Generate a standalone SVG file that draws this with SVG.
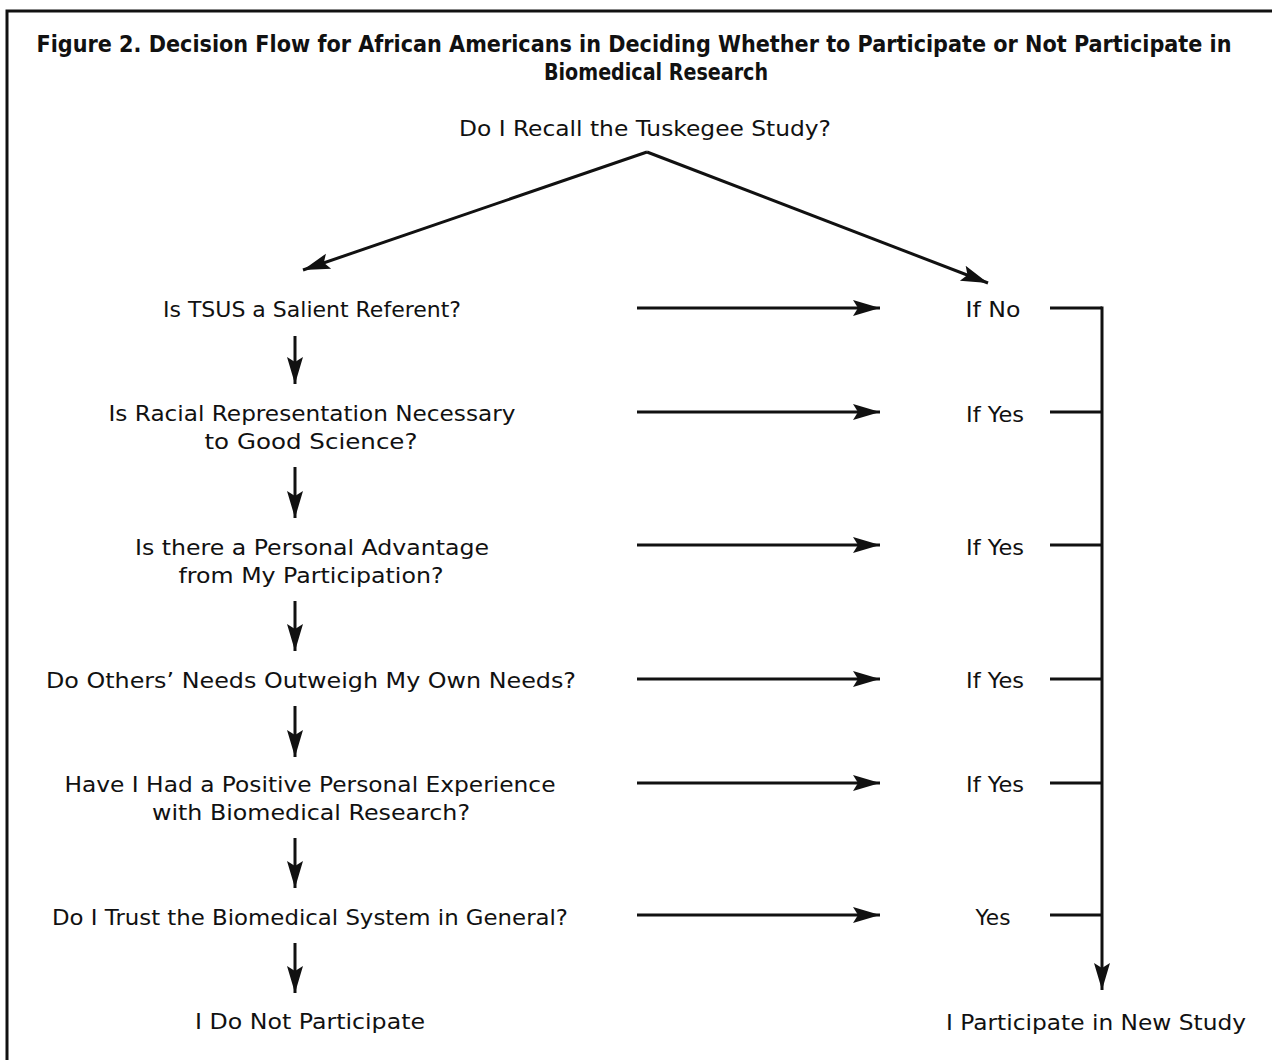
<svg xmlns="http://www.w3.org/2000/svg" width="1272" height="1060" viewBox="0 0 1272 1060">
<style>
text{font-family:"DejaVu Sans","Liberation Sans",sans-serif;font-size:22px;fill:#111;text-anchor:middle}
.title{font-weight:bold;font-size:23px}
.ln{stroke:#111;stroke-width:3;fill:none}
.ar{stroke:#111;stroke-width:3;fill:none;marker-end:url(#ah)}
</style>
<defs>
<marker id="ah" markerUnits="userSpaceOnUse" markerWidth="30" markerHeight="20" refX="0" refY="0" viewBox="-27 -10 30 20" orient="auto">
<path d="M0,0 L-27,-8 L-22,0 L-27,8 Z" fill="#111"/>
</marker>
</defs>
<rect x="0" y="0" width="1272" height="1060" fill="#fff"/>
<path class="ln" d="M7,1062 V11 H1274" stroke-width="3.5"/>
<g id="title">
<text class="title" x="634" y="52" textLength="1195" lengthAdjust="spacingAndGlyphs">Figure 2. Decision Flow for African Americans in Deciding Whether to Participate or Not Participate in</text>
<text class="title" x="656" y="80" textLength="224" lengthAdjust="spacingAndGlyphs">Biomedical Research</text>
</g>
<g id="n_recall"><text x="645" y="136" textLength="372" lengthAdjust="spacingAndGlyphs">Do I Recall the Tuskegee Study?</text></g>
<g id="n_tsus"><text x="312" y="317" textLength="298" lengthAdjust="spacingAndGlyphs">Is TSUS a Salient Referent?</text></g>
<g id="n_racial">
<text x="312" y="421" textLength="407" lengthAdjust="spacingAndGlyphs">Is Racial Representation Necessary</text>
<text x="311" y="449" textLength="213" lengthAdjust="spacingAndGlyphs">to Good Science?</text>
</g>
<g id="n_adv">
<text x="312" y="555" textLength="354" lengthAdjust="spacingAndGlyphs">Is there a Personal Advantage</text>
<text x="311" y="583" textLength="265" lengthAdjust="spacingAndGlyphs">from My Participation?</text>
</g>
<g id="n_others"><text x="311" y="688" textLength="530" lengthAdjust="spacingAndGlyphs">Do Others’ Needs Outweigh My Own Needs?</text></g>
<g id="n_exp">
<text x="310" y="792" textLength="491" lengthAdjust="spacingAndGlyphs">Have I Had a Positive Personal Experience</text>
<text x="311" y="820" textLength="318" lengthAdjust="spacingAndGlyphs">with Biomedical Research?</text>
</g>
<g id="n_trust"><text x="310" y="925" textLength="516" lengthAdjust="spacingAndGlyphs">Do I Trust the Biomedical System in General?</text></g>
<g id="n_notpart"><text x="310" y="1029" textLength="230" lengthAdjust="spacingAndGlyphs">I Do Not Participate</text></g>
<g id="n_ifno"><text x="993" y="317" textLength="55" lengthAdjust="spacingAndGlyphs">If No</text></g>
<g id="n_ifyes1"><text x="995" y="422" textLength="58" lengthAdjust="spacingAndGlyphs">If Yes</text></g>
<g id="n_ifyes2"><text x="995" y="555" textLength="58" lengthAdjust="spacingAndGlyphs">If Yes</text></g>
<g id="n_ifyes3"><text x="995" y="688" textLength="58" lengthAdjust="spacingAndGlyphs">If Yes</text></g>
<g id="n_ifyes4"><text x="995" y="792" textLength="58" lengthAdjust="spacingAndGlyphs">If Yes</text></g>
<g id="n_yes"><text x="993" y="925" textLength="35" lengthAdjust="spacingAndGlyphs">Yes</text></g>
<g id="n_part"><text x="1096" y="1030" textLength="300" lengthAdjust="spacingAndGlyphs">I Participate in New Study</text></g>
<g id="connectors">
<path class="ar" d="M647,152 L303,270"/>
<path class="ar" d="M647,152 L988,283"/>
<path class="ar" d="M637,308 H880"/>
<path class="ar" d="M637,412 H880"/>
<path class="ar" d="M637,545 H880"/>
<path class="ar" d="M637,679 H880"/>
<path class="ar" d="M637,783 H880"/>
<path class="ar" d="M637,915 H880"/>
<path class="ar" d="M295,336 V384"/>
<path class="ar" d="M295,467 V518"/>
<path class="ar" d="M295,601 V651"/>
<path class="ar" d="M295,706 V757"/>
<path class="ar" d="M295,838 V888"/>
<path class="ar" d="M295,943 V993"/>
<path class="ln" d="M1050,308 H1102"/>
<path class="ln" d="M1050,412 H1102"/>
<path class="ln" d="M1050,545 H1102"/>
<path class="ln" d="M1050,679 H1102"/>
<path class="ln" d="M1050,783 H1102"/>
<path class="ln" d="M1050,915 H1102"/>
<path class="ar" d="M1102,306.5 V990"/>
</g>
</svg>
